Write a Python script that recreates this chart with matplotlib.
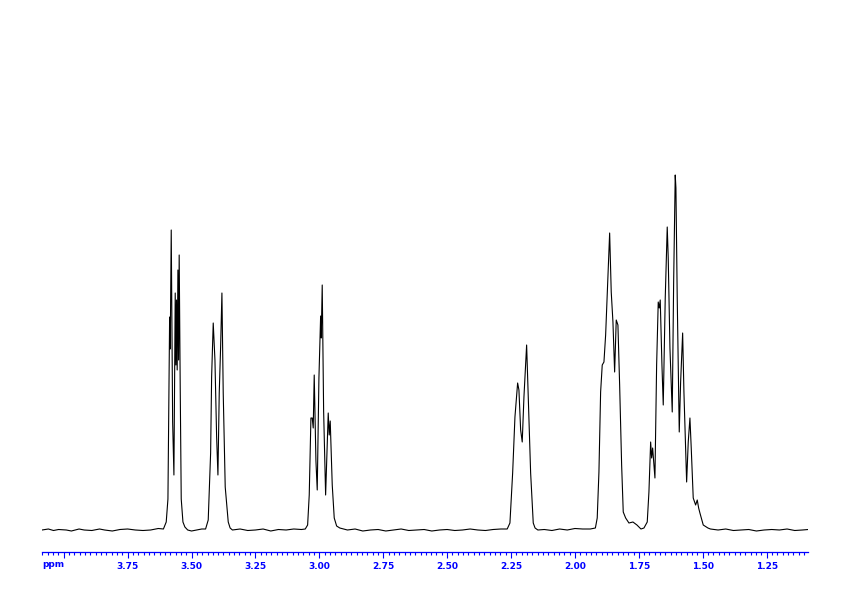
import matplotlib
matplotlib.use("Agg")
import matplotlib.pyplot as plt
import numpy as np
from matplotlib.ticker import FixedLocator, FuncFormatter, MultipleLocator


AXIS_BLUE = "#0000ff"  # colour of the ppm scale in the reference plot

# 1H spectrum: chemical shift (ppm) and intensity
# (arbitrary units, 0 = baseline), one pair of lists per multiplet
m1_ppm = [3.599, 3.5923, 3.5884, 3.5857, 3.5833, 3.5794, 3.5739, 3.5689,
          3.5638, 3.5611, 3.5588, 3.5561, 3.5533, 3.5506, 3.5483, 3.5442,
          3.5403, 3.5336, 3.526]
m1_int = [8, 31, 141, 213, 181, 300, 108, 55,
          237, 165, 230, 160, 260, 170, 275, 141,
          31, 8, 3]

m2_ppm = [3.4347, 3.4253, 3.4214, 3.4151, 3.4084, 3.4018, 3.3967, 3.3916,
          3.3862, 3.3811, 3.3760, 3.3682, 3.3564, 3.349]
m2_int = [10, 77, 153, 207, 170, 93, 55, 137,
          183, 237, 137, 43, 8, 2]

m3_ppm = [3.0458, 3.0395, 3.0329, 3.0278, 3.0239, 3.0200, 3.0133, 3.0082,
          3.0016, 2.9949, 2.9926, 2.9887, 2.9832, 2.9754, 2.9691, 2.9652,
          2.9613, 2.9574, 2.9495, 2.9417, 2.9323]
m3_int = [5, 35, 112, 112, 102, 155, 69, 40,
          152, 214, 192, 245, 119, 35, 85, 117,
          95, 109, 45, 12, 4]

m4_ppm = [2.2543, 2.2437, 2.2347, 2.2242, 2.2191, 2.2124, 2.2062, 2.1995,
          2.1890, 2.1827, 2.1733, 2.1631, 2.156]
m4_int = [7, 57, 113, 147, 140, 100, 88, 133,
          185, 133, 57, 7, 2]

m5_ppm = [1.9128, 1.9061, 1.8995, 1.8932, 1.8865, 1.8799, 1.8709, 1.8642,
          1.8580, 1.8513, 1.8447, 1.8384, 1.8318, 1.8251, 1.8173, 1.8110,
          1.8016, 1.7887, 1.7731, 1.7574, 1.7418]
m5_int = [12, 58, 138, 165, 168, 195, 255, 297,
          238, 208, 158, 210, 205, 145, 65, 18,
          12, 7, 8, 5, 1]

m6_ppm = [1.7171, 1.7105, 1.7038, 1.6999, 1.6960, 1.6870, 1.6804, 1.6741,
          1.6702, 1.6663, 1.6596, 1.6545, 1.6467, 1.6389, 1.6350, 1.6283,
          1.6193, 1.6138, 1.6076, 1.6049, 1.5998, 1.5919, 1.5865, 1.5786,
          1.5736, 1.5630, 1.5567, 1.5501, 1.5450, 1.5372, 1.5278, 1.5215,
          1.5160, 1.5110, 1.4980, 1.4797]
m6_int = [8, 38, 88, 72, 82, 52, 165, 228,
          222, 230, 165, 125, 232, 303, 272, 182,
          118, 248, 355, 342, 232, 98, 148, 197,
          138, 48, 88, 112, 82, 32, 25, 30,
          22, 17, 5, 2]

base_ppm = [4.085, 4.06, 4.04, 4.02, 3.99, 3.97, 3.94, 3.92, 3.89, 3.86,
            3.84, 3.81, 3.78, 3.75, 3.72, 3.69, 3.66, 3.63, 3.61,
            3.515, 3.50, 3.48, 3.46, 3.445,
            3.34, 3.31, 3.28, 3.25, 3.22, 3.19, 3.16, 3.13, 3.10, 3.07, 3.055,
            2.92, 2.89, 2.86, 2.83, 2.80, 2.77, 2.74, 2.71, 2.68, 2.65, 2.62,
            2.59, 2.56, 2.53, 2.50, 2.47, 2.44, 2.41, 2.38, 2.35, 2.32, 2.29,
            2.265,
            2.145, 2.12, 2.09, 2.06, 2.03, 2.00, 1.97, 1.94, 1.92,
            1.73,
            1.47, 1.44, 1.41, 1.38, 1.35, 1.32, 1.29, 1.26, 1.23, 1.20, 1.17,
            1.14, 1.11, 1.087]
base_int = [0, 1, -0.5, 0.5, 0, -1, 1, 0, -0.5, 1,
            0, -1, 0.5, 1, 0, -0.5, 0, 1.5, 1,
            0, -1, 0, 1, 1,
            0, 1, -0.5, 0, 1, -1, 0.5, 0, 1, 0.5, 1,
            2, 0, 1, -1, 0, 0.5, -1, 0, 1, -0.5, 0,
            0.5, -1, 0, 0.5, -0.5, 0, 1, 0, -0.5, 0.5, 1,
            1,
            0, 0.5, -0.5, 1, 0, 1.5, 1, 1, 2,
            2,
            1, 0, 1, -0.5, 0, 0.5, -1, 0, 0.5, 0, 1,
            -0.5, 0, 0.5]

major_ticks = [4.00, 3.75, 3.50, 3.25, 3.00, 2.75, 2.50, 2.25, 2.00, 1.75, 1.50, 1.25]
ppm_range = (4.085, 1.087)


def build_spectrum():
    """
    puts the baseline and all the multiplets together in one trace
    :return: ppm values (descending) and the matching intensities
    """
    ppm = np.concatenate([base_ppm, m1_ppm, m2_ppm, m3_ppm, m4_ppm, m5_ppm, m6_ppm])
    inten = np.concatenate([base_int, m1_int, m2_int, m3_int, m4_int, m5_int, m6_int])
    order = np.argsort(-ppm)
    return ppm[order], inten[order]


def tick_label(value, pos):
    # the 4.00 tick is left without a label, "ppm" sits there instead
    if abs(value - 4.00) < 1e-6:
        return ""
    return "%.2f" % value


ppm, inten = build_spectrum()

fig = plt.figure(figsize=(8.42, 5.96), dpi=100)
ax = fig.add_axes([42 / 842, 43.7 / 596, 766.3 / 842, 532.3 / 596])
ax.plot(ppm, inten, color="black", linewidth=0.8)

ax.set_xlim(*ppm_range)
ax.set_ylim(-22.3, 510)

for side in ["left", "right", "top"]:
    ax.spines[side].set_visible(False)
ax.spines["bottom"].set_color(AXIS_BLUE)
ax.spines["bottom"].set_linewidth(0.9)
ax.set_yticks([])

ax.xaxis.set_major_locator(FixedLocator(major_ticks))
ax.xaxis.set_major_formatter(FuncFormatter(tick_label))
ax.xaxis.set_minor_locator(MultipleLocator(0.25 / 12))
ax.tick_params(axis="x", which="major", direction="out", length=4.3, width=0.8,
               color=AXIS_BLUE, labelcolor=AXIS_BLUE, labelsize=6.5, pad=2.5)
ax.tick_params(axis="x", which="minor", direction="out", length=2.2, width=0.8,
               color=AXIS_BLUE)
for lab in ax.get_xticklabels():
    lab.set_fontweight("bold")

fig.text(42 / 842, 31.3 / 596, "ppm", color=AXIS_BLUE, fontsize=6.5,
         fontweight="bold", ha="left", va="center")

fig.savefig("out.png", dpi=100)
